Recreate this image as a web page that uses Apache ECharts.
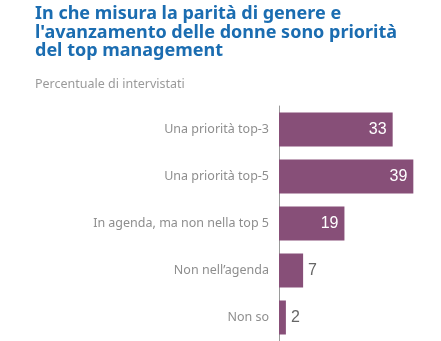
<!DOCTYPE html>
<html>
<head>
<meta charset="utf-8">
<script src="https://cdn.jsdelivr.net/npm/echarts@6/dist/echarts.min.js"></script>
<style>
  html, body { margin: 0; padding: 0; background: #fff; }
  #chart { width: 441px; height: 341px; }
</style>
</head>
<body>
<div id="chart"></div>
<script>
// Survey answers, top to bottom
const categories = [
  'Una priorità top-3',
  'Una priorità top-5',
  'In agenda, ma non nella top 5',
  'Non nell\u2019agenda',
  'Non so'
];
const values = [33, 39, 19, 7, 2];

const titleText = 'In che misura la parità di genere e\nl\'avanzamento delle donne sono priorità\ndel top management';
const subtitleText = 'Percentuale di intervistati';

const barColor = '#874f78';
const insideThreshold = 10; // short bars get their value outside

const chart = echarts.init(document.getElementById('chart'), null, { renderer: 'canvas' });

chart.setOption({
  backgroundColor: '#ffffff',
  animation: false,
  title: [
    {
      text: titleText,
      left: 35,
      top: 5,
      padding: 0,
      textStyle: {
        fontFamily: 'Noto Sans',
        fontWeight: 'bold',
        fontSize: 18,
        lineHeight: 18.4,
        color: '#1b6db1'
      }
    },
    {
      text: subtitleText,
      left: 35,
      top: 78,
      padding: 0,
      textStyle: {
        fontFamily: 'Noto Sans',
        fontWeight: 'normal',
        fontSize: 12.5,
        color: '#9a9a9a'
      }
    }
  ],
  grid: {
    left: 279,
    right: 7,
    top: 106,
    bottom: -7,
    containLabel: false
  },
  xAxis: {
    type: 'value',
    min: 0,
    max: 45,
    show: false
  },
  yAxis: {
    type: 'category',
    inverse: true,
    data: categories,
    offset: 5,
    axisLine: { show: true, lineStyle: { color: '#9a9a9a', width: 1 } },
    axisTick: { show: false },
    axisLabel: {
      margin: 5,
      fontFamily: 'Noto Sans',
      fontSize: 12.5,
      color: '#8e8e8e'
    }
  },
  series: [
    {
      type: 'bar',
      barWidth: 34,
      data: values.map(v => ({
        value: v,
        label: v >= insideThreshold
          ? { position: 'insideRight', color: '#ffffff', distance: 6 }
          : { position: 'right', color: '#666666', distance: 5 }
      })),
      itemStyle: { color: barColor },
      label: {
        show: true,
        fontFamily: 'Liberation Sans',
        fontSize: 16
      }
    }
  ]
});
</script>
</body>
</html>
